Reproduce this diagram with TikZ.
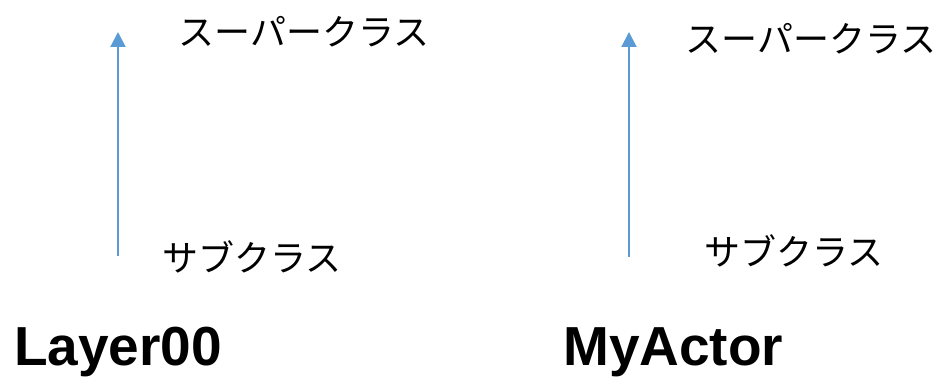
\documentclass[tikz,border=0pt]{standalone}
\usepackage{fontspec}
\setmainfont{Liberation Sans}
\newfontfamily\jpfont{Noto Sans CJK JP}
\usetikzlibrary{arrows.meta}
\usetikzlibrary{positioning}

\definecolor{kbblue}{HTML}{5B9BD5}

\tikzset{
  jptext/.style={inner sep=0pt, font=\jpfont\fontsize{36}{40}\selectfont},
  classname/.style={inner sep=0pt, anchor=west, font=\bfseries\fontsize{55}{60}\selectfont},
  inherit/.style={draw=kbblue, line width=2pt, -{Triangle[length=15pt,width=15pt]}}
}

\begin{document}
\begin{tikzpicture}[x=1pt,y=-1pt]
\useasboundingbox (0,0) rectangle (943,390);

% Nodos
\node [jptext] at (304,32) (sup1) {スーパークラス};
\node [jptext] at (252,257) (sub1) {サブクラス};
\node [classname] at (14,352) (cls1) {Layer00};
\coordinate (a1) at (118,256);
\coordinate (b1) at (118,32);

\node [jptext] at (811,39) (sup2) {スーパークラス};
\node [jptext] at (794,251) (sub2) {サブクラス};
\node [classname] at (563,352) (cls2) {MyActor};
\coordinate (a2) at (629,257);
\coordinate (b2) at (629,32);

% Conexiones
\draw[inherit] (a1) -- (b1);
\draw[inherit] (a2) -- (b2);

\end{tikzpicture}
\end{document}
